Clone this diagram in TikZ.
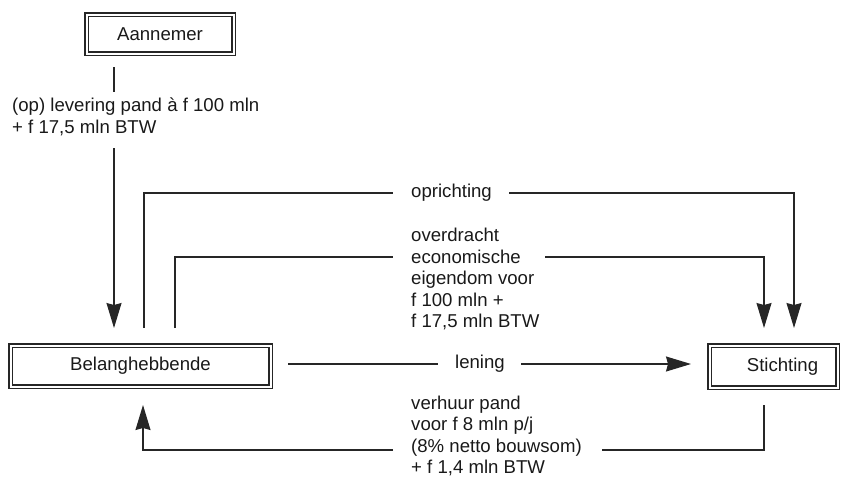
\documentclass[tikz,border=0pt]{standalone}
\usepackage{fontspec}
\setmainfont{Liberation Sans}
\usetikzlibrary{arrows.meta}
\begin{document}
\begin{tikzpicture}[x=1pt,y=-1pt,
  party/.style={draw=black!85, line width=1.4pt, double, double distance=2pt,
    inner sep=0pt, text=black!90, font=\fontsize{18.6}{21.5}\selectfont},
  flow/.style={draw=black!85, line width=1.2pt},
  tip/.style={-{Stealth[length=25pt,width=15pt,inset=2pt]}},
  lbl/.style={inner sep=0pt, align=left, anchor=west, text=black!90,
    font=\fontsize{18.6}{21.5}\selectfont}]
\useasboundingbox (0,0) rectangle (850,477);

% parties
\node[party, minimum width=147pt, minimum height=39pt] (aan) at (160,34) {Aannemer};
\node[party, minimum width=260pt, minimum height=41pt] (bel) at (140.5,366) {Belanghebbende};
\node[party, minimum width=128pt, minimum height=42pt] (sti) at (773.5,366.5) {\hspace*{18pt}Stichting};

% labels
\node[lbl] (lev) at (12,117) {(op) levering pand à f 100 mln\\+ f 17,5 mln BTW};
\node[lbl] (opr) at (411,193) {oprichting};
\node[lbl] (ovd) at (411,279) {overdracht\\economische\\eigendom voor\\f 100 mln +\\f 17,5 mln BTW};
\node[lbl, anchor=center] (len) at (480,364) {lening};
\node[lbl] (vhr) at (411,436) {verhuur pand\\voor f 8 mln p/j\\(8\% netto bouwsom)\\+ f 1,4 mln BTW};

% delivery by the contractor
\coordinate (a1) at (114,67);
\coordinate (a2) at (114,92);
\coordinate (a3) at (114,148);
\coordinate (a4) at (114,328);
\draw[flow] (a1) -- (a2);
\draw[flow,tip] (a3) -- (a4);

% founding
\coordinate (o1) at (144,328);
\coordinate (o2) at (393,193);
\coordinate (o3) at (509,193);
\coordinate (o4) at (794,328);
\draw[flow] (o1) |- (o2);
\draw[flow,tip] (o3) -| (o4);

% transfer of economic ownership
\coordinate (e1) at (175,328);
\coordinate (e2) at (393,257);
\coordinate (e3) at (545,257);
\coordinate (e4) at (764,328);
\draw[flow] (e1) |- (e2);
\draw[flow,tip] (e3) -| (e4);

% loan
\coordinate (n1) at (288,364);
\coordinate (n2) at (438,364);
\coordinate (n3) at (521,364);
\coordinate (n4) at (691,364);
\draw[flow] (n1) -- (n2);
\draw[flow,tip] (n3) -- (n4);

% lease
\coordinate (v1) at (764,405);
\coordinate (v2) at (602,450);
\coordinate (v3) at (393,450);
\coordinate (v4) at (143,405);
\draw[flow] (v1) |- (v2);
\draw[flow,tip] (v3) -| (v4);
\end{tikzpicture}
\end{document}
